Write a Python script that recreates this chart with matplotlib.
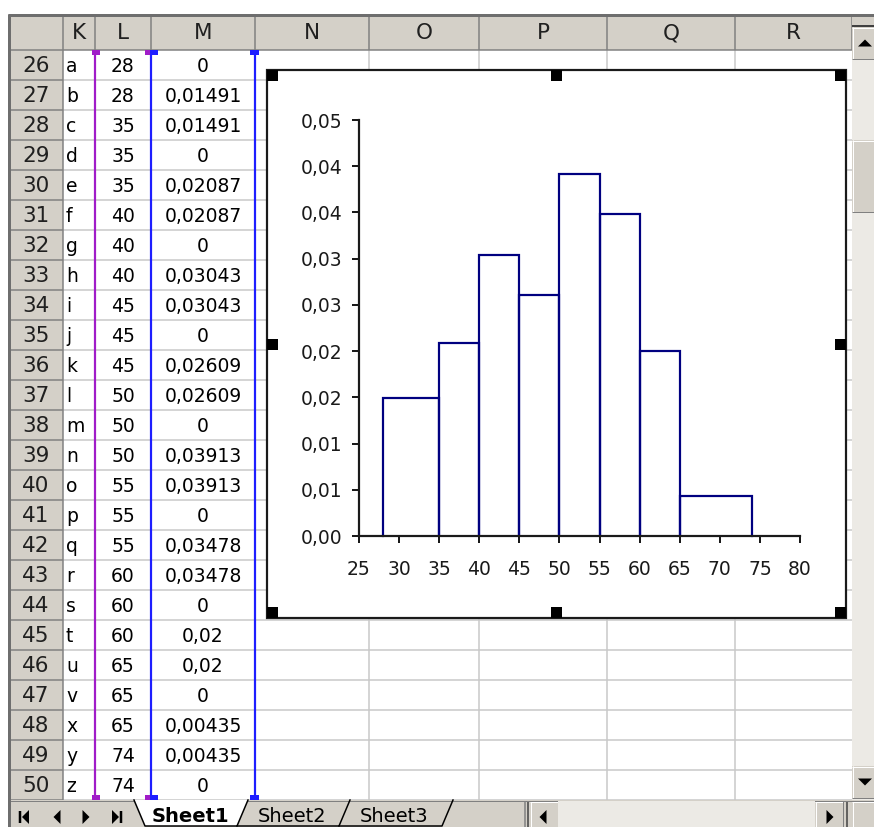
import math
import matplotlib
matplotlib.use("Agg")
import matplotlib.pyplot as plt
from matplotlib.patches import Rectangle, Polygon
from matplotlib.ticker import MultipleLocator, FuncFormatter

# worksheet contents (rows 26..50, columns K, L, M)
row_numbers = list(range(26, 51))
col_k = list("abcdefghijklmnopqrstuvxyz")
col_l = [28, 28, 35, 35, 35, 40, 40, 40, 45, 45, 45, 50, 50, 50,
         55, 55, 55, 60, 60, 60, 65, 65, 65, 74, 74]
col_m = [0, 0.01491, 0.01491, 0, 0.02087, 0.02087, 0, 0.03043, 0.03043, 0,
         0.02609, 0.02609, 0, 0.03913, 0.03913, 0, 0.03478, 0.03478, 0,
         0.02, 0.02, 0, 0.00435, 0.00435, 0]
col_names = ["K", "L", "M", "N", "O", "P", "Q", "R"]
sheet_tabs = ["Sheet1", "Sheet2", "Sheet3"]

W, H = 874, 827
GRAY = "#D4D0C8"
DARK = "#808080"
GRID = "#C8C8C8"
TRACK = "#ECEAE5"
PURPLE = "#A01CC8"
BLUE = "#1E1EFF"
NAVY = "#000080"
FONT = "DejaVu Sans"

col_edges = [63, 95, 151, 255, 369, 479, 607, 735, 852]
ROW_TOP, ROW_H = 50, 30
HEAD_TOP = 14
SHEET_BOTTOM = ROW_TOP + ROW_H * len(row_numbers)


def px(v):
    # pixel widths -> points at 100 dpi
    return v * 0.72


def fmt_m(v):
    return "0" if v == 0 else str(v).replace(".", ",")


fig = plt.figure(figsize=(W / 100, H / 100), dpi=100)
sh = fig.add_axes([0, 0, 1, 1])
sh.set_xlim(0, W)
sh.set_ylim(H, 0)
sh.axis("off")


def rect(x0, y0, x1, y1, fc, ec="none", lw=0, z=1):
    sh.add_patch(Rectangle((x0, y0), x1 - x0, y1 - y0, facecolor=fc,
                           edgecolor=ec, linewidth=px(lw), zorder=z))


def hline(y, x0, x1, c, lw=1, z=2):
    sh.plot([x0, x1], [y, y], color=c, lw=px(lw), zorder=z,
            solid_capstyle="butt")


def vline(x, y0, y1, c, lw=1, z=2):
    sh.plot([x, x], [y0, y1], color=c, lw=px(lw), zorder=z,
            solid_capstyle="butt")


def button(x0, y0, x1, y1, z=3):
    rect(x0, y0, x1, y1, GRAY, z=z)
    hline(y0 + 0.5, x0, x1, "white", 1, z + 0.1)
    vline(x0 + 0.5, y0, y1, "white", 1, z + 0.1)
    hline(y1 - 0.5, x0, x1, DARK, 1, z + 0.1)
    vline(x1 - 0.5, y0, y1, DARK, 1, z + 0.1)


def tri(cx, cy, size, direction, z=4):
    s = size
    if direction == "left":
        pts = [(cx - s / 2, cy), (cx + s / 2, cy - s), (cx + s / 2, cy + s)]
    elif direction == "right":
        pts = [(cx + s / 2, cy), (cx - s / 2, cy - s), (cx - s / 2, cy + s)]
    elif direction == "up":
        pts = [(cx, cy - s / 2), (cx - s, cy + s / 2), (cx + s, cy + s / 2)]
    else:
        pts = [(cx, cy + s / 2), (cx - s, cy - s / 2), (cx + s, cy - s / 2)]
    sh.add_patch(Polygon(pts, closed=True, facecolor="black",
                         edgecolor="none", zorder=z))


# cell area and gridlines
rect(63, ROW_TOP, 852, SHEET_BOTTOM, "white", z=0.5)
for i in range(1, len(row_numbers) + 1):
    hline(ROW_TOP + i * ROW_H, 63, 852, GRID, 1.5)
for x in col_edges[1:-1]:
    vline(x, ROW_TOP, SHEET_BOTTOM, GRID, 1.5)

# column headers
rect(9, HEAD_TOP, 852, ROW_TOP, GRAY, z=1)
for x in col_edges:
    vline(x, HEAD_TOP, ROW_TOP, DARK, 1.5, 2)
hline(ROW_TOP, 9, 852, DARK, 1.5, 2)
for name, x0, x1 in zip(col_names, col_edges[:-1], col_edges[1:]):
    sh.text((x0 + x1) / 2, 33, name, ha="center", va="center",
            fontsize=15.5, family=FONT, color="#202020", zorder=5)

# row headers
rect(9, ROW_TOP, 63, SHEET_BOTTOM, GRAY, z=1)
for i, r in enumerate(row_numbers):
    y0 = ROW_TOP + i * ROW_H
    hline(y0 + ROW_H, 9, 63, DARK, 1.5, 2)
    sh.text(36, y0 + ROW_H / 2 + 1, str(r), ha="center", va="center",
            fontsize=15.5, family=FONT, color="#202020", zorder=5)
vline(63, ROW_TOP, SHEET_BOTTOM, DARK, 1.5, 2)

# window frame
hline(HEAD_TOP + 1, 8, W, "#6E6E6E", 3, 6)
vline(9, HEAD_TOP, H, "#6E6E6E", 3, 6)

# cell values
for i, (k, l, m) in enumerate(zip(col_k, col_l, col_m)):
    yc = ROW_TOP + i * ROW_H + ROW_H / 2 + 1.5
    sh.text(66, yc, k, ha="left", va="center", fontsize=13.5, family=FONT,
            zorder=5)
    sh.text((95 + 151) / 2, yc, str(l), ha="center", va="center",
            fontsize=13.5, family=FONT, zorder=5)
    sh.text((151 + 255) / 2, yc, fmt_m(m), ha="center", va="center",
            fontsize=13.5, family=FONT, zorder=5)

# source range outlines of the chart series
vline(95, ROW_TOP, SHEET_BOTTOM, PURPLE, 2.2, 6)
vline(151, ROW_TOP, SHEET_BOTTOM, BLUE, 2.2, 6)
vline(255, ROW_TOP, SHEET_BOTTOM, BLUE, 2.2, 6)
for ytop in (ROW_TOP, SHEET_BOTTOM - 5):
    rect(92, ytop, 100, ytop + 5, PURPLE, z=7)
    rect(145, ytop, 150, ytop + 5, PURPLE, z=7)
    rect(150, ytop, 158, ytop + 5, BLUE, z=7)
    rect(250, ytop, 259, ytop + 5, BLUE, z=7)

# embedded chart object
CX0, CY0, CX1, CY1 = 267, 70, 846, 618
rect(CX0, CY0, CX1, CY1, "white", "#1A1A1A", 2.2, z=8)
hs = 11
cxm, cym = (CX0 + CX1) / 2, (CY0 + CY1) / 2
for hx in (CX0, cxm - hs / 2, CX1 - hs):
    for hy in (CY0, cym - hs / 2, CY1 - hs):
        if hx == cxm - hs / 2 and hy == cym - hs / 2:
            continue
        rect(hx, hy, hx + hs, hy + hs, "black", z=9)

# vertical scrollbar
rect(852, HEAD_TOP, W, SHEET_BOTTOM, TRACK, z=3)
rect(852, HEAD_TOP, W, 26, GRAY, z=3.2)
hline(26, 852, W, "#404040", 2, 3.5)
button(852, 27, W + 2, 59)
tri(865, 43, 7, "up")
button(852, 140, W + 2, 212)
button(852, 766, W + 2, 798)
tri(865, 782, 7, "down")

# sheet tab bar and horizontal scrollbar
rect(9, SHEET_BOTTOM, W, H, GRAY, z=3)
hline(SHEET_BOTTOM + 0.5, 9, W, DARK, 1, 3.3)
ty = 817
vline(20, ty - 6, ty + 6, "black", 2.5, 4)
tri(25.5, ty, 7, "left")
tri(57, ty, 7, "left")
tri(86, ty, 7, "right")
tri(115.5, ty, 7, "right")
vline(121, ty - 6, ty + 6, "black", 2.5, 4)

sh.add_patch(Polygon([(134, SHEET_BOTTOM), (145, H - 1), (237, H - 1),
                      (248, SHEET_BOTTOM)], closed=True, facecolor="white",
                     edgecolor="none", zorder=4))
sh.plot([134, 145, 237, 248], [SHEET_BOTTOM, H - 1, H - 1, SHEET_BOTTOM],
        color="black", lw=px(1.5), zorder=4.2)
sh.plot([237, 339, 350], [H - 1, H - 1, SHEET_BOTTOM], color="black",
        lw=px(1.5), zorder=4.1)
sh.plot([339, 442, 453], [H - 1, H - 1, SHEET_BOTTOM], color="black",
        lw=px(1.5), zorder=4.1)
tab_x = [190, 292, 394]
for name, x, bold in zip(sheet_tabs, tab_x, [True, False, False]):
    sh.text(x, ty, name, ha="center", va="center", fontsize=14, family=FONT,
            fontweight="bold" if bold else "normal", zorder=5)

vline(525, SHEET_BOTTOM + 2, H, DARK, 1.5, 4)
vline(528, SHEET_BOTTOM + 2, H, "#404040", 1.5, 4)
rect(558, SHEET_BOTTOM + 1, 815, H, TRACK, z=3.5)
button(530, SHEET_BOTTOM + 1, 558, H + 2)
tri(543, ty, 7, "left")
button(688, SHEET_BOTTOM + 1, 760, H + 2)
button(815, SHEET_BOTTOM + 1, 843, H + 2)
tri(830, ty, 7, "right")
vline(847, SHEET_BOTTOM + 2, H, "#404040", 1.5, 4)
button(852, SHEET_BOTTOM + 1, W + 2, H + 2)

# histogram plot inside the chart object
PX0, PX1, PY0, PY1 = 359, 800, 120, 536
ax = fig.add_axes([PX0 / W, (H - PY1) / H, (PX1 - PX0) / W, (PY1 - PY0) / H])
ax.set_zorder(10)
ax.patch.set_alpha(0)
ax.plot(col_l, col_m, color=NAVY, lw=px(2.2), solid_joinstyle="miter",
        clip_on=False, zorder=2)
ax.set_xlim(25, 80)
ax.set_ylim(0, 0.045)
ax.xaxis.set_major_locator(MultipleLocator(5))
ax.yaxis.set_major_locator(MultipleLocator(0.005))
ax.yaxis.set_major_formatter(FuncFormatter(
    lambda v, p: f"{math.floor(v * 100 + 0.5 + 1e-9) / 100:.2f}".replace(".", ",")))
ax.xaxis.set_major_formatter(FuncFormatter(lambda v, p: f"{v:.0f}"))
for side in ("top", "right"):
    ax.spines[side].set_visible(False)
for side in ("left", "bottom"):
    ax.spines[side].set_linewidth(px(2.2))
    ax.spines[side].set_color("#1A1A1A")
ax.tick_params(axis="both", direction="out", length=px(7), width=px(2),
               color="#1A1A1A", labelsize=13.5, labelcolor="#1A1A1A")
ax.tick_params(axis="y", pad=px(10))
ax.tick_params(axis="x", pad=px(17))
for lab in ax.get_xticklabels() + ax.get_yticklabels():
    lab.set_family(FONT)

fig.savefig("out.png", dpi=100)
